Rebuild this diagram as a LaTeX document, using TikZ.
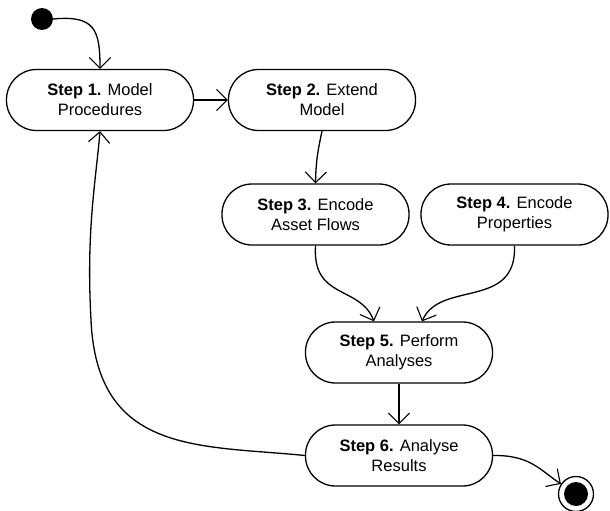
\documentclass[tikz,border=0pt]{standalone}
\usepackage{fontspec}
\setmainfont{Liberation Sans}
\usetikzlibrary{arrows.meta}
\tikzset{>={Straight Barb[scale=2.6,line width=1.1pt]}}
\begin{document}
\begin{tikzpicture}[x=1pt,y=-1pt,
  stepbox/.style={draw,line width=1.3pt,rounded corners=30pt,minimum width=187pt,minimum height=61pt,align=center,font=\fontsize{16.5}{20}\selectfont,inner sep=0pt},
  flow/.style={line width=1.3pt,->},
  plain/.style={line width=1.3pt}]
\useasboundingbox (0,0) rectangle (610,511);
\node[circle,fill=black,minimum size=22pt,inner sep=0pt] (init) at (42,19) {};
\node[stepbox] (s1) at (100,100) {\textbf{Step 1.} Model\\Procedures};
\node[stepbox] (s2) at (322,100) {\textbf{Step 2.} Extend\\Model};
\node[stepbox] (s3) at (315.5,214.5) {\textbf{Step 3.} Encode\\Asset Flows};
\node[stepbox] (s4) at (514.5,214.5) {\textbf{Step 4.} Encode\\Properties};
\node[stepbox] (s5) at (399,352.5) {\textbf{Step 5.} Perform\\Analyses};
\node[stepbox] (s6) at (399,455.5) {\textbf{Step 6.} Analyse\\Results};
\node[circle,draw,line width=1.3pt,minimum size=35pt,inner sep=0pt] (fin) at (576,494) {};
\fill (fin.center) circle (12pt);
\coordinate (mid) at (91,320);
\draw[flow] (init.east) .. controls (95,15) and (100,30) .. (s1.north);
\draw[flow] (s1.east) -- (s2.west);
\draw[flow] (s2.south) .. controls (318,150) and (316,160) .. (s3.north);
\draw[flow] (s3.south) .. controls (312,300) and (360,285) .. ([xshift=-25pt]s5.north);
\draw[flow] (s4.south) .. controls (517,310) and (440,280) .. ([xshift=23pt]s5.north);
\draw[flow] (s5.south) -- (s6.north);
\draw[plain] (s6.west) .. controls (200,445) and (97,455) .. (mid);
\draw[flow] (mid) .. controls (86,230) and (96,180) .. (s1.south);
\draw[flow] (s6.east) .. controls (530,455) and (540,470) .. (fin);
\end{tikzpicture}
\end{document}
